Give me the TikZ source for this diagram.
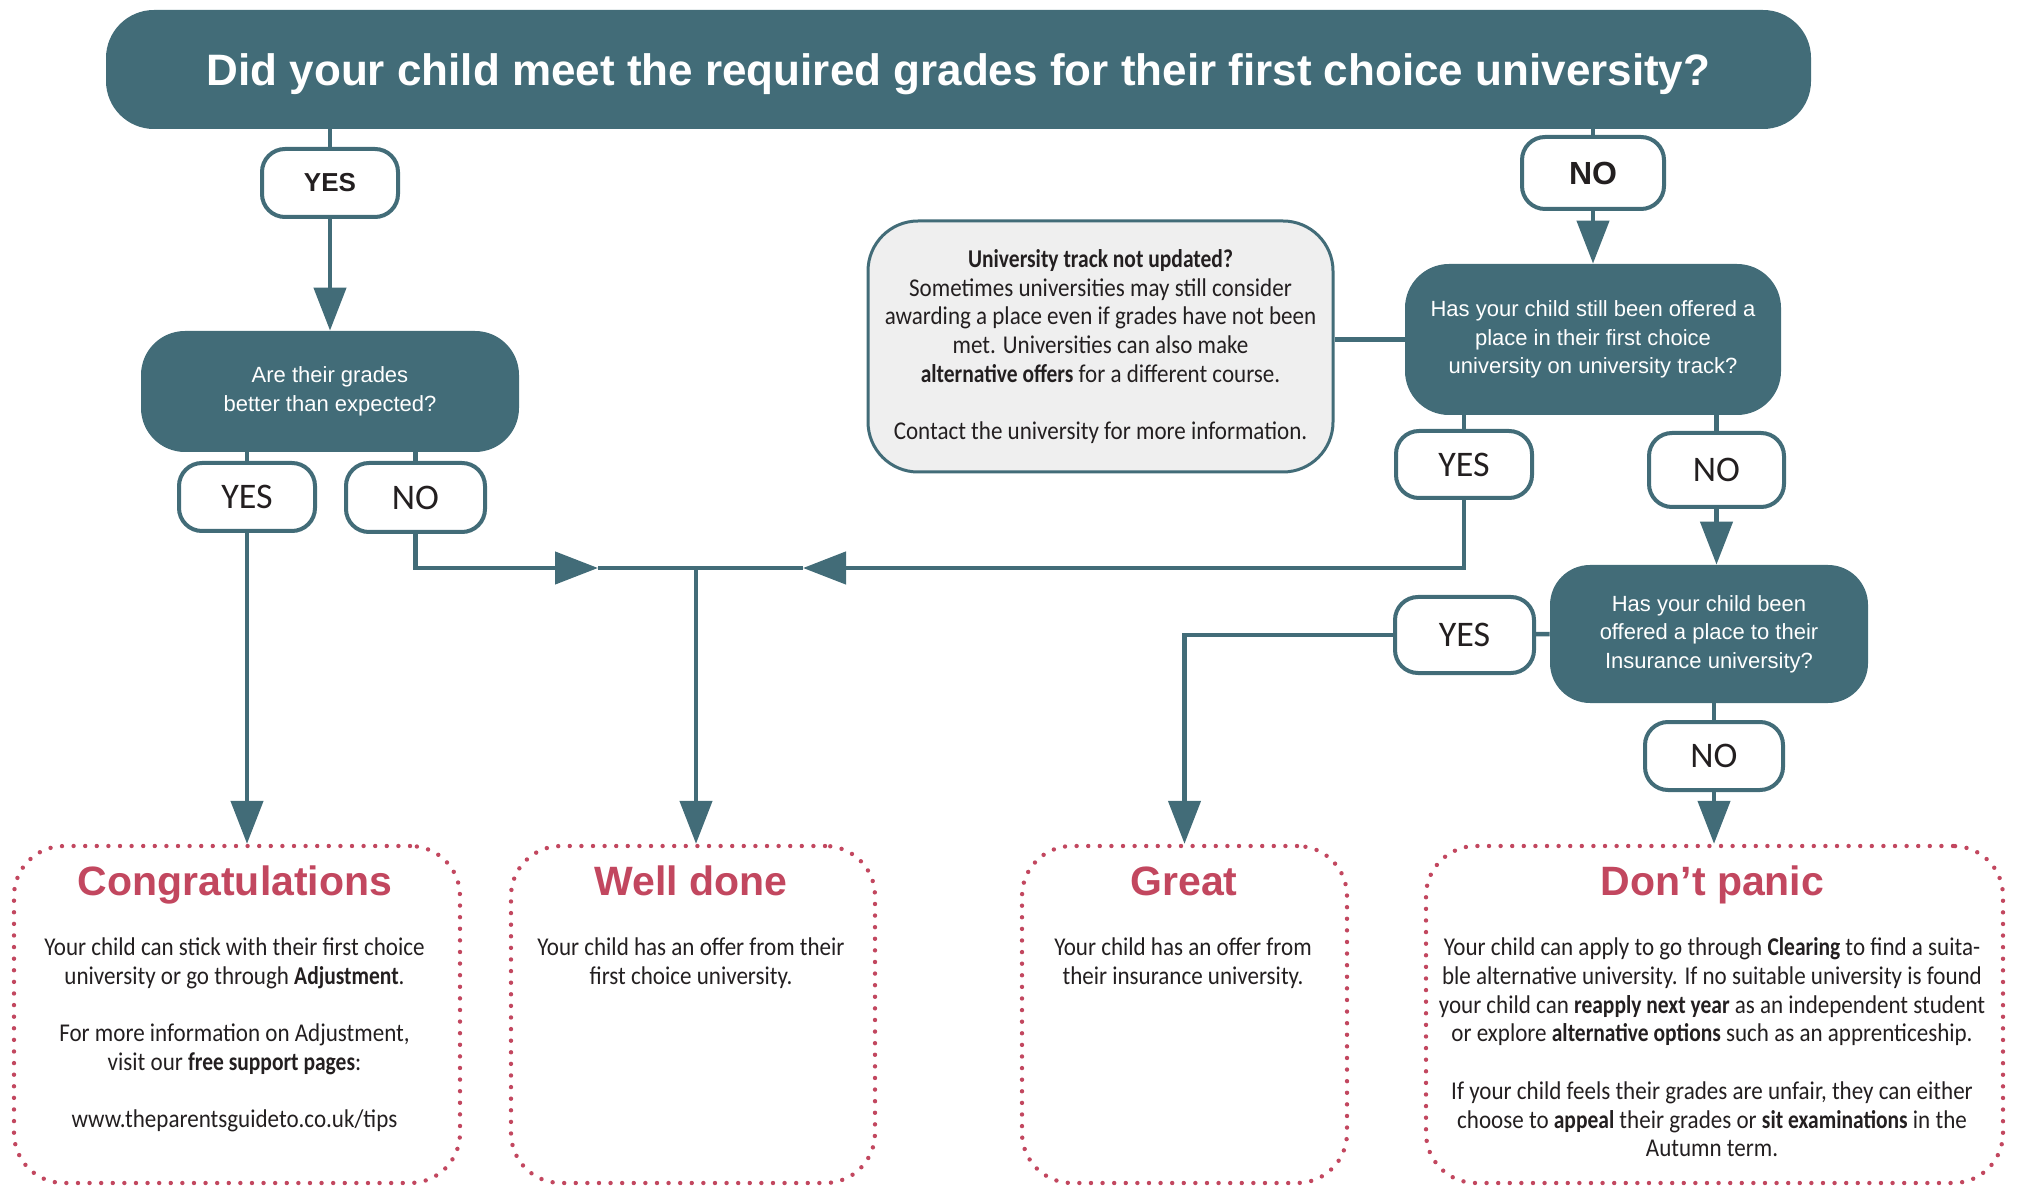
\documentclass[tikz,border=0pt]{standalone}
\usepackage{fontspec}
\setmainfont{Carlito}[FakeStretch=0.9, BoldFeatures={FakeStretch=0.84}]
\newfontfamily\headfont{Liberation Sans}
\newfontfamily\labelfont{Carlito}
\usetikzlibrary{arrows.meta,positioning}
\definecolor{deepteal}{HTML}{426C78}
\definecolor{berry}{HTML}{C2475F}
\definecolor{panel}{HTML}{EFEFEF}
\definecolor{ink}{HTML}{231F20}

\begin{document}
\begin{tikzpicture}[
  x=0.5pt, y=-0.5pt,
  qbox/.style={fill=deepteal, rounded corners=22pt, text=white, align=center, inner sep=0pt,
    font=\headfont\fontsize{11}{14.2}\selectfont},
  yn/.style={draw=deepteal, line width=2pt, fill=white, rounded corners=11.5pt, text=ink, inner sep=0pt,
    font=\labelfont\fontsize{18}{20}\selectfont},
  outbox/.style={draw=berry, line width=2.2pt, dash pattern=on 0pt off 5.8pt, line cap=round,
    rounded corners=25pt, minimum height=168.5pt},
  outhead/.style={text=berry, anchor=base, inner sep=0pt, font=\headfont\bfseries\fontsize{20.5}{24}\selectfont},
  outtext/.style={text=ink, align=center, anchor=north, inner sep=0pt, font=\fontsize{12.8}{14.35}\selectfont},
  link/.style={draw=deepteal, line width=2.25pt},
  arr/.style={link, -{Triangle[length=21.5pt, width=16pt]}}
]
\useasboundingbox (0,0) rectangle (2017,1186);

\node[qbox, rounded corners=24pt, minimum width=852.5pt, minimum height=59.5pt, text depth=0pt,
  font=\headfont\bfseries\fontsize{22}{26}\selectfont] (title) at (958.5,69.5)
  {Did your child meet the required grades for their first choice university?};

% left branch
\node[yn, minimum width=68pt, minimum height=34pt, font=\headfont\bfseries\fontsize{13}{15}\selectfont] (yesA) at (330,183) {YES};
\node[qbox, minimum width=189pt, minimum height=60.5pt] (q1) at (330,391.5) {Are their grades\\better than expected?};
\node[yn, minimum width=68pt, minimum height=34pt] (yesB) at (247,497) {YES};
\node[yn, minimum width=69.5pt, minimum height=34.5pt] (noB) at (415.5,497.5) {NO};

% right branch
\node[yn, minimum width=71pt, minimum height=36pt, font=\headfont\bfseries\fontsize{16}{18}\selectfont] (noA) at (1593,173) {NO};
\node[qbox, minimum width=188pt, minimum height=75.5pt] (q2) at (1593,339.5)
  {Has your child still been offered a\\place in their first choice\\university on university track?};
\node[draw=deepteal, line width=1.5pt, fill=panel, rounded corners=25pt, minimum width=232.5pt, minimum height=125.5pt,
  align=center, text=ink, inner sep=0pt, font=\fontsize{12.8}{14.35}\selectfont] (info) at (1100.5,346.5)
  {\textbf{University track not updated?}\\Sometimes universities may still consider\\awarding a place even if grades have not been\\met. Universities can also make\\\textbf{alternative offers} for a different course.\\[14.35pt]Contact the university for more information.};
\node[yn, minimum width=68pt, minimum height=33.5pt] (yesC) at (1464,464.5) {YES};
\node[yn, minimum width=67.5pt, minimum height=37pt] (noC) at (1716.5,470) {NO};
\node[qbox, rounded corners=20pt, minimum width=159pt, minimum height=69pt] (q3) at (1709,634)
  {Has your child been\\offered a place to their\\Insurance university?};
\node[yn, minimum width=69.5pt, minimum height=38pt] (yesD) at (1464.5,635) {YES};
\node[yn, minimum width=69pt, minimum height=34pt] (noD) at (1714,756) {NO};

% outcomes
\node[outbox, minimum width=223pt] (congrats) at (237,1014.5) {};
\node[outbox, minimum width=182pt] (welldone) at (693,1014.5) {};
\node[outbox, minimum width=162.5pt] (great) at (1184.5,1014.5) {};
\node[outbox, minimum width=288.5pt] (panic) at (1714.5,1014.5) {};

\node[outhead] (congratshead) at (235,895) {Congratulations};
\node[outhead] (welldonehead) at (691,895) {Well done};
\node[outhead] (greathead) at (1184,895) {Great};
\node[outhead] (panichead) at (1712.5,895) {Don’t panic};

\node[outtext] (congratsbody) at (234.5,937.5)
  {Your child can stick with their first choice\\university or go through \textbf{Adjustment}.\\[14.35pt]For more information on Adjustment,\\visit our \textbf{free support pages}:\\[14.35pt]www.theparentsguideto.co.uk/tips};
\node[outtext] (welldonebody) at (691,937.5) {Your child has an offer from their\\first choice university.};
\node[outtext] (greatbody) at (1183,937.5) {Your child has an offer from\\their insurance university.};
\node[outtext] (panicbody) at (1712,937.5)
  {Your child can apply to go through \textbf{Clearing} to find a suita-\\ble alternative university. If no suitable university is found\\your child can \textbf{reapply next year} as an independent student\\or explore \textbf{alternative options} such as an apprenticeship.\\[14.35pt]If your child feels their grades are unfair, they can either\\choose to \textbf{appeal} their grades or \textbf{sit examinations} in the\\Autumn term.};

\coordinate (join) at (696,568);
\coordinate (tipL) at (598,568);
\coordinate (tipR) at (803,568);

\draw[link] (title.south -| yesA) -- (yesA);
\draw[arr] (yesA) -- (q1);
\draw[link] (q1.south -| yesB) -- (yesB);
\draw[link] (q1.south -| noB) -- (noB);
\draw[arr] (yesB) -- (yesB |- congrats.north);
\draw[arr] (noB) |- (tipL);
\draw[link] (tipL) -- (tipR);
\draw[arr] (yesC) |- (tipR);
\draw[arr] (join) -- (join |- welldone.north);

\draw[link] (title.south -| noA) -- (noA);
\draw[arr] (noA) -- (q2);
\draw[link] (q2.west) -- (q2.west -| info.east);
\draw[link] (q2.south -| yesC) -- (yesC);
\draw[link] (q2.south -| noC) -- (noC);
\draw[arr] (noC) -- (noC |- q3.north);
\draw[link] (q3.west) -- (yesD);
\draw[arr] (yesD) -| (great.north);
\draw[link] (q3.south -| noD) -- (noD);
\draw[arr] (noD) -- (noD |- panic.north);
\end{tikzpicture}
\end{document}
